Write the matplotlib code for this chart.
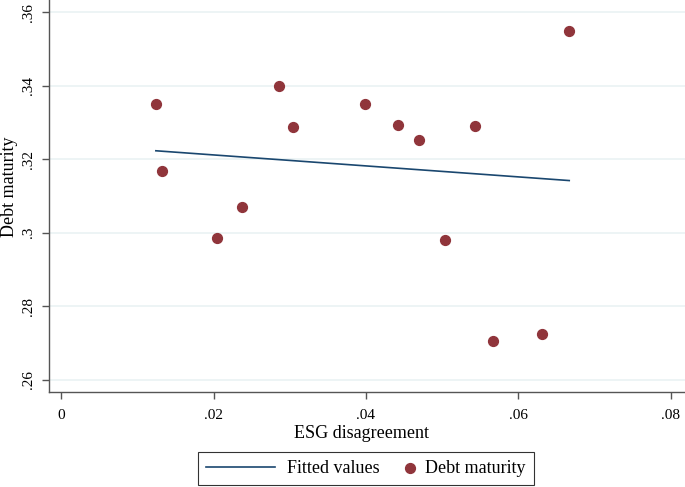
import matplotlib
matplotlib.use("Agg")
import matplotlib.pyplot as plt
from matplotlib.ticker import FixedLocator
from matplotlib.legend_handler import HandlerPathCollection

esg = [0.01248, 0.01322, 0.0204, 0.02377, 0.02859, 0.0305, 0.03983, 0.04421,
       0.04701, 0.05039, 0.05437, 0.05669, 0.06308, 0.06667]
maturity = [0.3349, 0.3167, 0.2986, 0.3070, 0.3399, 0.3287, 0.3349, 0.3294,
            0.3252, 0.2981, 0.3290, 0.2706, 0.2726, 0.3549]
fit_x = [0.01243, 0.0667]
fit_y = [0.3223, 0.3142]

xticks = [0, 0.02, 0.04, 0.06, 0.08]
xticklabels = ["0", ".02", ".04", ".06", ".08"]
yticks = [0.26, 0.28, 0.30, 0.32, 0.34, 0.36]
yticklabels = [".26", ".28", ".3", ".32", ".34", ".36"]

plt.rcParams['font.family'] = ['Liberation Serif', 'DejaVu Serif']

W, H = 685, 487
fig = plt.figure(figsize=(W / 100, H / 100), dpi=100)
ax = fig.add_axes([49 / W, 95 / H, 1 - 49 / W, 1 - 95 / H])

ax.set_xlim(-0.0016, 0.0819)
ax.set_ylim(0.2567, 0.3633)

ax.yaxis.grid(True, color="#eaf2f3", linewidth=1.2)
ax.set_axisbelow(True)

line, = ax.plot(fit_x, fit_y, color="#1a476f", linewidth=1.2, label="Fitted values")
sc = ax.scatter(esg, maturity, s=50, color="#90353b", zorder=3, label="Debt maturity")

ax.xaxis.set_major_locator(FixedLocator(xticks))
ax.set_xticklabels(xticklabels)
ax.yaxis.set_major_locator(FixedLocator(yticks))
ax.set_yticklabels(yticklabels, rotation=90, va="center")

for s in ["top", "right"]:
    ax.spines[s].set_visible(False)
for s in ["left", "bottom"]:
    ax.spines[s].set_color("#555555")
    ax.spines[s].set_linewidth(1.0)
ax.tick_params(direction="out", length=5, width=1, color="#555555",
               labelsize=11)
ax.tick_params(axis="x", pad=7)
ax.tick_params(axis="y", pad=5)

ax.set_xlabel("ESG disagreement", fontsize=13)
ax.set_ylabel("Debt maturity", fontsize=13)
ax.xaxis.set_label_coords((362 - 49) / (W - 49), -(434 - 392) / 392, transform=ax.transAxes)
ax.xaxis.label.set_va("center")
ax.yaxis.set_label_coords(-(49 - 10) / (W - 49), (392 - 187) / 392, transform=ax.transAxes)
ax.yaxis.label.set_va("center")


class RightMarkerHandler(HandlerPathCollection):
    def get_xdata(self, legend, xdescent, ydescent, width, height, fontsize):
        x = [-xdescent + width - 0.2 * fontsize]
        return x, x


fs = 13
leg = fig.legend(handles=[line, sc], loc="center",
                 bbox_to_anchor=(366 / W, 1 - 468.5 / H),
                 ncol=2, frameon=True, fancybox=False, edgecolor="black",
                 fontsize=fs, handlelength=3.8, handletextpad=0.65,
                 columnspacing=-1.9, borderpad=0.45, scatterpoints=1,
                 handler_map={sc: RightMarkerHandler()})
leg.get_frame().set_linewidth(0.8)

fig.savefig("out.png", dpi=100)
